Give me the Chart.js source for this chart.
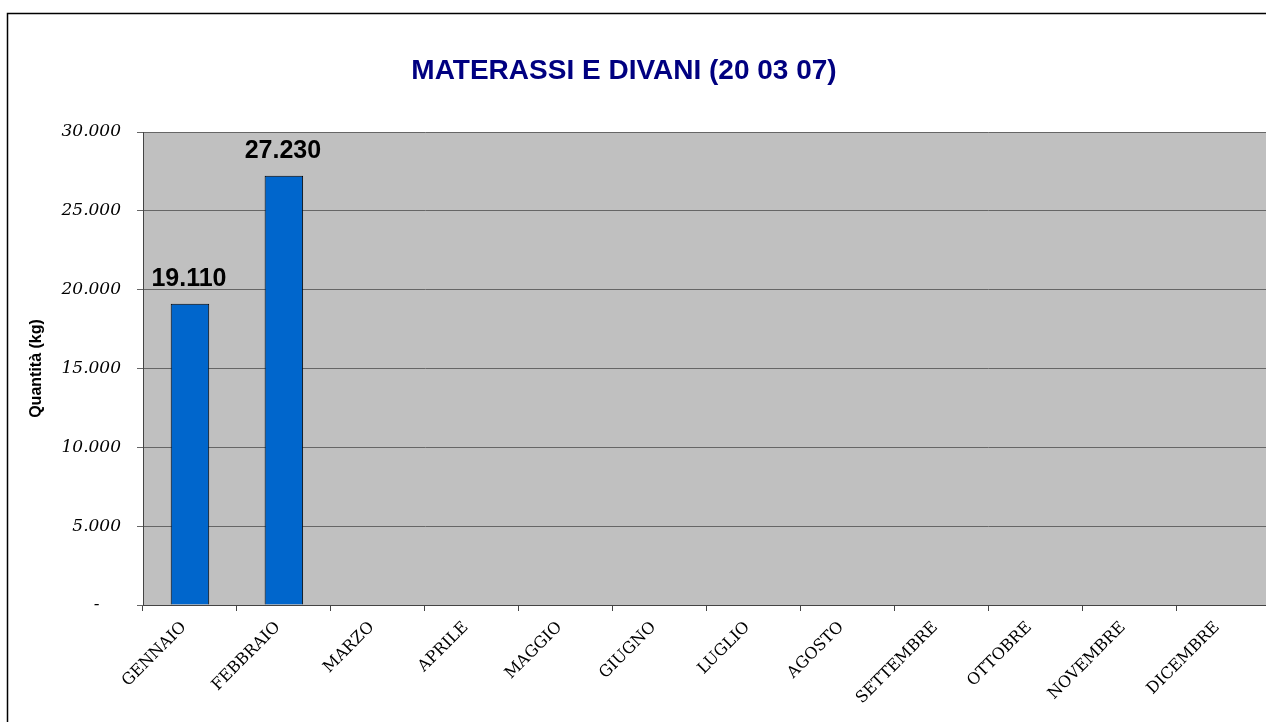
<!DOCTYPE html>
<html>
<head>
<meta charset="utf-8">
<script src="https://cdn.jsdelivr.net/npm/chart.js@4"></script>
<style>
  html, body { margin: 0; padding: 0; background: #fff; overflow: hidden; }
  #wrap { width: 1266px; height: 722px; overflow: hidden; position: relative; }
  #myChart { position: absolute; left: 0; top: 0; }
</style>
</head>
<body>
<div id="wrap"><canvas id="myChart" width="1280" height="722"></canvas></div>
<script>
  // chart data
  var mesi = ['GENNAIO', 'FEBBRAIO', 'MARZO', 'APRILE', 'MAGGIO', 'GIUGNO', 'LUGLIO', 'AGOSTO', 'SETTEMBRE', 'OTTOBRE', 'NOVEMBRE', 'DICEMBRE'];
  var quantita = [19110, 27230, null, null, null, null, null, null, null, null, null, null];
  var titolo = 'MATERASSI E DIVANI (20 03 07)';
  var titoloAsseY = 'Quantità (kg)';

  // 30000 -> "30.000"
  function formatta(v) {
    return String(Math.round(v)).replace(/\B(?=(\d{3})+(?!\d))/g, '.');
  }

  // white page border, grey plot area, title
  var sfondo = {
    id: 'sfondo',
    beforeDraw: function (chart) {
      var c = chart.ctx, a = chart.chartArea;
      c.save();
      c.fillStyle = '#ffffff';
      c.fillRect(0, 0, chart.width, chart.height);
      c.strokeStyle = '#000000';
      c.lineWidth = 1.5;
      c.strokeRect(7.5, 13.5, chart.width + 20, chart.height + 20);
      c.fillStyle = '#C0C0C0';
      c.fillRect(a.left, a.top, a.right - a.left, a.bottom - a.top);
      c.fillStyle = '#000080';
      c.font = 'bold 28px "Liberation Sans", Arial, sans-serif';
      c.textAlign = 'center';
      c.textBaseline = 'alphabetic';
      c.fillText(titolo, 624, 79);
      c.restore();
    }
  };

  // value labels above the bars
  var etichette = {
    id: 'etichette',
    afterDatasetsDraw: function (chart) {
      var c = chart.ctx;
      var meta = chart.getDatasetMeta(0);
      c.save();
      c.fillStyle = '#000000';
      c.font = 'bold 25px "Liberation Sans", Arial, sans-serif';
      c.textAlign = 'center';
      c.textBaseline = 'alphabetic';
      meta.data.forEach(function (bar, i) {
        var v = quantita[i];
        if (v === null) return;
        c.fillText(formatta(v), bar.x - 1, bar.y - 18);
      });
      c.restore();
    }
  };

  var ctx = document.getElementById('myChart').getContext('2d');

  var data = {
    labels: mesi,
    datasets: [
      {
        label: 'Quantità',
        data: quantita,
        backgroundColor: '#0066CC',
        borderColor: '#000000',
        borderWidth: 1,
        barPercentage: 0.41,
        categoryPercentage: 1.0,
      },
    ],
  };

  var options = {
    responsive: false,
    animation: false,
    devicePixelRatio: 1,
    layout: {
      padding: { top: 132, left: 0, right: 10, bottom: 0 },
    },
    plugins: {
      legend: { display: false },
      title: { display: false },
      tooltip: { enabled: false },
    },
    scales: {
      x: {
        offset: true,
        grid: {
          offset: true,
          drawOnChartArea: false,
          drawTicks: true,
          tickLength: 6,
          color: '#444444',
        },
        border: { display: true, color: '#444444', width: 1 },
        ticks: {
          minRotation: 45,
          maxRotation: 45,
          autoSkip: false,
          padding: 7,
          labelOffset: -6,
          color: '#000000',
          font: { family: '"DejaVu Serif", serif', size: 16 },
        },
        afterFit: function (axis) { axis.height = 117; },
      },
      y: {
        min: 0,
        max: 30000,
        grid: {
          color: '#666666',
          drawTicks: true,
          tickLength: 6,
        },
        border: { display: true, color: '#444444', width: 1 },
        ticks: {
          stepSize: 5000,
          padding: 16,
          color: '#000000',
          font: { family: '"DejaVu Serif", serif', size: 17, style: 'italic' },
          callback: function (v) { return v === 0 ? '-    ' : formatta(v); },
        },
        title: {
          display: true,
          text: titoloAsseY,
          color: '#000000',
          padding: { top: 27, bottom: 0 },
          font: { family: '"Liberation Sans", Arial, sans-serif', size: 16, weight: 'bold' },
        },
        afterFit: function (axis) { axis.width = 143; },
      },
    },
  };

  var chart = new Chart(ctx, {
    type: 'bar',
    data: data,
    options: options,
    plugins: [sfondo, etichette],
  });
</script>
</body>
</html>
